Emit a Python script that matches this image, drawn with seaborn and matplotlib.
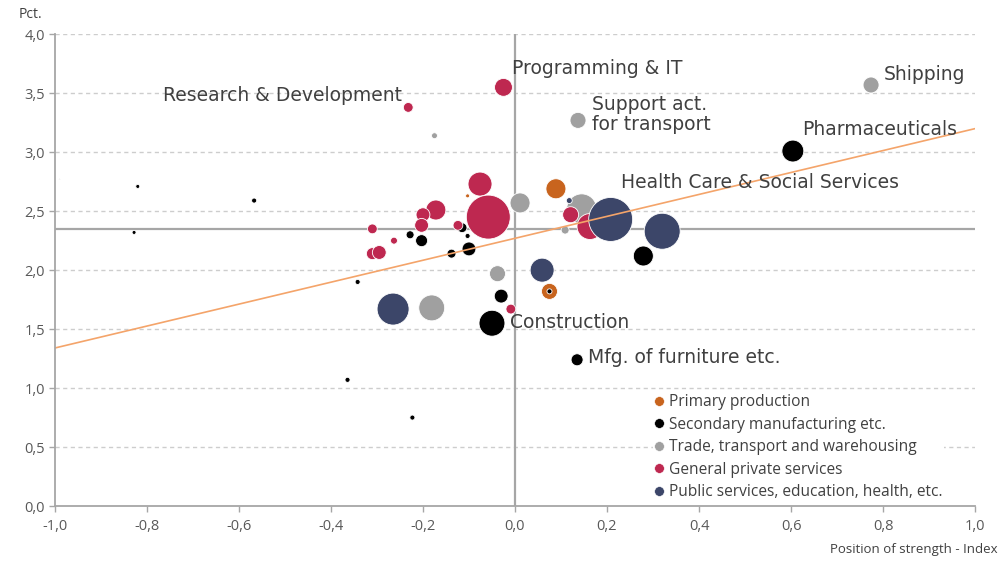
import numpy as np
import pandas as pd
import matplotlib
matplotlib.use("Agg")
import matplotlib.pyplot as plt
from matplotlib.lines import Line2D
from matplotlib.ticker import FuncFormatter, MultipleLocator
import seaborn as sns

# ---- data -------------------------------------------------------------
groups = [
    "Primary production",
    "Secondary manufacturing etc.",
    "Trade, transport and warehousing",
    "General private services",
    "Public services, education, health, etc.",
]
colors = ["#C8641E", "#000000", "#A0A0A0", "#BE2850", "#3C4669"]

# position of strength index, growth (pct.), employment weight
primary_x = [0.089, 0.075, -0.103]
primary_y = [2.69, 1.82, 2.63]
primary_w = [25, 16, 1]

secondary_x = [-0.820, -0.828, -0.567, -0.364, -0.223, -0.342, -0.228, -0.203,
               -0.138, -0.100, -0.115, -0.103, -0.030, -0.050, 0.075, 0.279,
               0.135, 0.604]
secondary_y = [2.71, 2.32, 2.59, 1.07, 0.75, 1.90, 2.30, 2.25,
               2.14, 2.18, 2.36, 2.29, 1.78, 1.55, 1.82, 2.12,
               1.24, 3.01]
secondary_w = [1, 1, 1.6, 1.6, 1.6, 1.6, 4, 9,
               5, 12, 6, 1.6, 12, 42, 1.6, 25,
               9, 30]

trade_x = [-0.990, -0.175, 0.774, 0.137, 0.011, -0.038, -0.181, 0.145, 0.109]
trade_y = [2.77, 3.14, 3.57, 3.27, 2.57, 1.97, 1.68, 2.52, 2.34]
trade_w = [0.1, 2.2, 16, 16, 25, 16, 42, 56, 4]

private_x = [-0.232, -0.025, -0.076, -0.058, -0.172, -0.200, -0.203, -0.310,
             -0.263, -0.310, -0.295, -0.009, 0.121, 0.163, -0.124]
private_y = [3.38, 3.55, 2.73, 2.45, 2.51, 2.47, 2.38, 2.35,
             2.25, 2.14, 2.15, 1.67, 2.47, 2.37, 2.38]
private_w = [6, 20, 36, 121, 25, 12, 12, 6,
             3, 9, 12, 6, 16, 42, 6]

public_x = [-0.265, 0.059, 0.208, 0.320, 0.118]
public_y = [1.67, 2.00, 2.43, 2.33, 2.59]
public_w = [64, 36, 121, 81, 2.2]

# labelled industries
label_text = ["Research & Development", "Programming & IT", "Shipping",
              "Support act.\nfor transport", "Pharmaceuticals",
              "Health Care & Social Services", "Construction",
              "Mfg. of furniture etc."]
label_x = [-0.246, -0.007, 0.802, 0.167, 0.624, 0.230, -0.011, 0.159]
label_y = [3.48, 3.71, 3.66, 3.32, 3.19, 2.74, 1.56, 1.26]
label_ha = ["right", "left", "left", "left", "left", "left", "left", "left"]

# averages and trend
mean_x = 0.0
mean_y = 2.35
trend_intercept = 2.27
trend_slope = 0.93

# ---- table ------------------------------------------------------------
parts = []
for g, xs, ys, ws in zip(groups,
                         [primary_x, secondary_x, trade_x, private_x, public_x],
                         [primary_y, secondary_y, trade_y, private_y, public_y],
                         [primary_w, secondary_w, trade_w, private_w, public_w]):
    parts.append(pd.DataFrame({"group": g, "x": xs, "y": ys, "w": ws}))
df = pd.concat(parts, ignore_index=True)

# ---- figure -----------------------------------------------------------
sns.set_theme(style="white")
plt.rcParams["font.family"] = ["Open Sans", "DejaVu Sans"]

fig = plt.figure(figsize=(9.99, 5.62), dpi=100)
ax = fig.add_axes([0.055, 0.0996, 0.921, 0.8394])

ax.set_xlim(-1.0, 1.0)
ax.set_ylim(0.0, 4.0)

# horizontal dashed grid
for yv in np.arange(0.5, 4.01, 0.5):
    ax.axhline(yv, color="#CDCDCD", lw=1.0, ls=(0, (3, 2.5)), zorder=0)

# average lines
ax.axvline(mean_x, color="#A6A6A6", lw=1.6, zorder=1)
ax.axhline(mean_y, color="#A6A6A6", lw=1.6, zorder=1)

wmax = 121
sns.scatterplot(data=df, x="x", y="y", hue="group", hue_order=groups,
                palette=colors, size="w", size_norm=(0, wmax),
                sizes=(0, 8.28 * wmax), edgecolor="white", linewidth=0.6,
                alpha=1.0, legend=False, ax=ax, zorder=3)

# trend line
ax.axline((0, trend_intercept), slope=trend_slope, color="#F4A46A",
          lw=1.2, zorder=4)

# labels
for t, lx, ly, ha in zip(label_text, label_x, label_y, label_ha):
    ax.text(lx, ly, t, ha=ha, va="center", fontsize=13.5, color="#404040",
            family=["DejaVu Sans"], linespacing=1.1, zorder=5)

# axes styling
for side in ["top", "right"]:
    ax.spines[side].set_visible(False)
for side in ["left", "bottom"]:
    ax.spines[side].set_color("#A6A6A6")
    ax.spines[side].set_linewidth(1.3)
    ax.spines[side].set_zorder(8)

ax.xaxis.set_major_locator(MultipleLocator(0.2))
ax.yaxis.set_major_locator(MultipleLocator(0.5))
comma = FuncFormatter(lambda v, p: f"{v:.1f}".replace(".", ",").replace("-0,0", "0,0"))
ax.xaxis.set_major_formatter(comma)
ax.yaxis.set_major_formatter(comma)
ax.tick_params(axis="both", which="major", labelsize=10.5, labelcolor="#595959",
               color="#A6A6A6", width=1.0, length=4, direction="out",
               bottom=True, left=True)
ax.tick_params(axis="x", pad=5)
ax.tick_params(axis="y", pad=3)
ax.set_xlabel("")
ax.set_ylabel("")

fig.text(30 / 999, 1 - 15 / 562, "Pct.", ha="center", va="center",
         fontsize=10, color="#404040")
fig.text(997 / 999, 1 - 549 / 562, "Position of strength - Index", ha="right",
         va="center", fontsize=9.5, color="#404040")

handles = [Line2D([], [], marker="o", ls="", markersize=7, markerfacecolor=c,
                  markeredgecolor="white", markeredgewidth=0.4)
           for c in colors]
leg = ax.legend(handles, groups, loc="upper left",
                bbox_to_anchor=(653 / 999, 1 - 392 / 562),
                bbox_transform=fig.transFigure, frameon=True, fontsize=11.2,
                handlelength=0.5, handletextpad=0.35, labelspacing=0.42,
                borderpad=0.15, borderaxespad=0)
leg.get_frame().set_facecolor("white")
leg.get_frame().set_edgecolor("none")
leg.get_frame().set_alpha(1)
leg.set_zorder(6)
for txt in leg.get_texts():
    txt.set_color("#404040")

fig.savefig("out.png", dpi=100)
